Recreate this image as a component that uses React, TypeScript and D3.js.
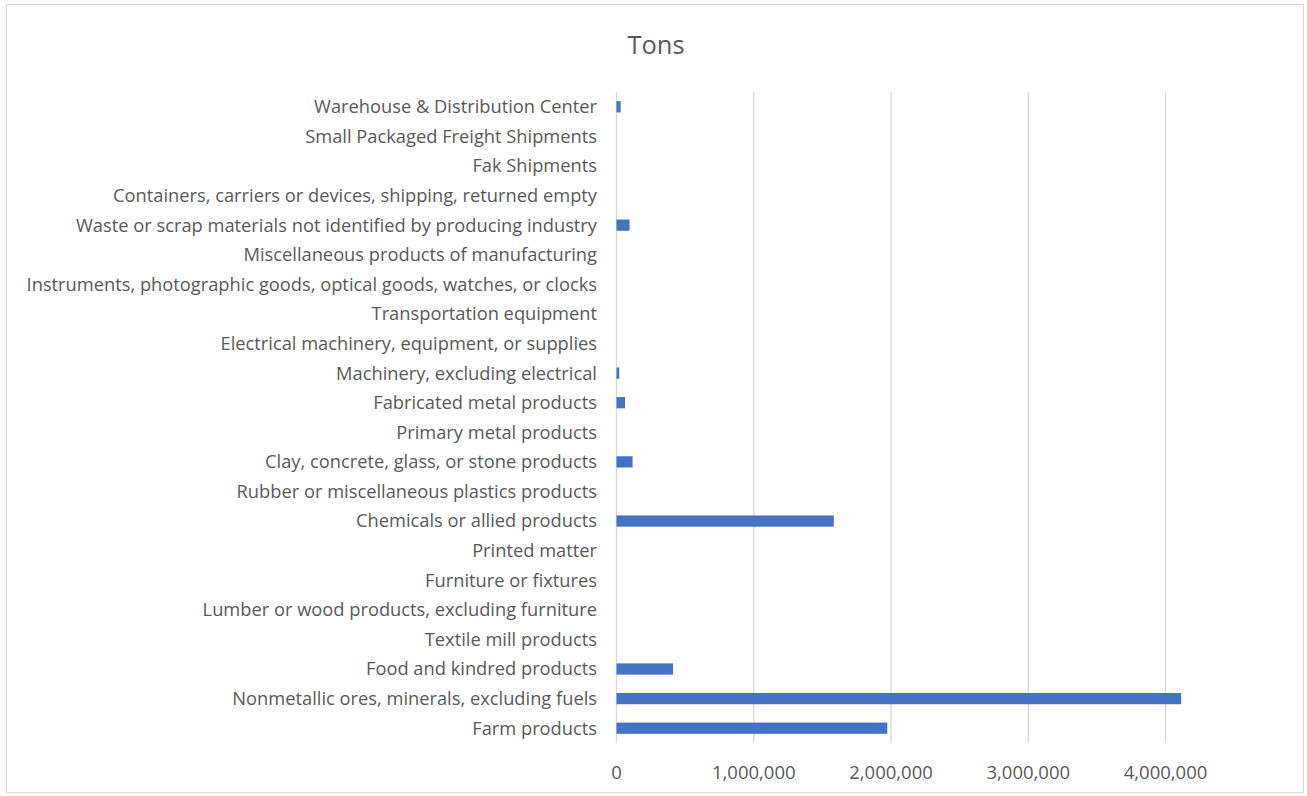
import React from "react";
import * as d3 from "d3";

const categories = [
  "Farm products",
  "Nonmetallic ores, minerals, excluding fuels",
  "Food and kindred products",
  "Textile mill products",
  "Lumber or wood products, excluding furniture",
  "Furniture or fixtures",
  "Printed matter",
  "Chemicals or allied products",
  "Rubber or miscellaneous plastics products",
  "Clay, concrete, glass, or stone products",
  "Primary metal products",
  "Fabricated metal products",
  "Machinery, excluding electrical",
  "Electrical machinery, equipment, or supplies",
  "Transportation equipment",
  "Instruments, photographic goods, optical goods, watches, or clocks",
  "Miscellaneous products of manufacturing",
  "Waste or scrap materials not identified by producing industry",
  "Containers, carriers or devices, shipping, returned empty",
  "Fak Shipments",
  "Small Packaged Freight Shipments",
  "Warehouse & Distribution Center",
];

const tons = [
  1973000, 4114000, 412000, 0, 0, 0, 0, 1583000, 0, 117000, 0, 62000, 20000,
  0, 0, 0, 0, 95000, 0, 0, 0, 30000,
];

const xTicks = [0, 1000000, 2000000, 3000000, 4000000];

const W = 1307;
const H = 796;
const left = 616.5;
const right = 1165.5;
const top = 92;
const bottom = 743;

export default function App() {
  const x = d3.scaleLinear().domain([0, 4000000]).range([left, right]);
  const y = d3
    .scaleBand<string>()
    .domain([...categories].reverse())
    .range([top, bottom])
    .paddingInner(0.62)
    .paddingOuter(0.31);
  const fmt = d3.format(",");
  const font = "'Open Sans', 'Noto Sans', sans-serif";
  return (
    <svg
      width={W}
      height={H}
      style={{ position: "absolute", left: 0, top: 0, display: "block" }}
      fontFamily={font}
    >
      <rect x={0} y={0} width={W} height={H} fill="#fff" />
      <rect x={6.5} y={4.5} width={1297} height={788} fill="#fff" stroke="#d9d9d9" strokeWidth={1} />
      <text x={656} y={54} textAnchor="middle" fontSize={25.5} fill="#595959">
        Tons
      </text>
      {xTicks.map((t) => (
        <g key={t}>
          <line x1={x(t)} x2={x(t)} y1={top} y2={bottom} stroke="#d9d9d9" strokeWidth={1.3} />
          <text x={x(t)} y={778.5} textAnchor="middle" fontSize={18.5} fill="#595959">
            {fmt(t)}
          </text>
        </g>
      ))}
      {categories.map((c, i) => (
        <g key={c}>
          <rect
            x={x(0)}
            y={y(c)!}
            width={x(tons[i]) - x(0)}
            height={y.bandwidth()}
            fill="#4472c4"
          />
          <text
            x={597}
            y={y(c)! + y.bandwidth() / 2}
            dy="0.35em"
            textAnchor="end"
            fontSize={18.3}
            fill="#595959"
          >
            {c}
          </text>
        </g>
      ))}
    </svg>
  );
}
